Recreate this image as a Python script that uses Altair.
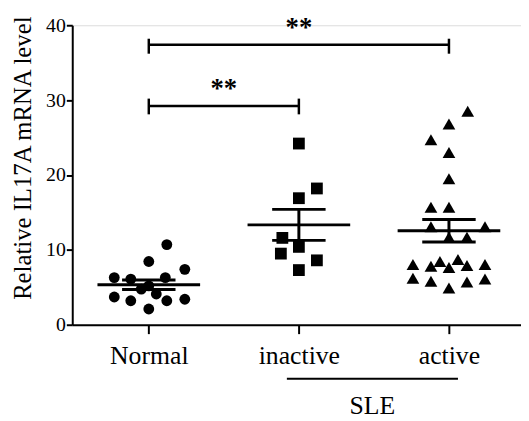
import altair as alt
import pandas as pd

groups = ["Normal", "inactive", "active"]

normal_vals = [10.7, 8.45, 7.4, 6.3, 6.1, 6.3, 4.75, 4.1, 5.2, 3.7, 3.2, 3.2, 3.4, 2.1]
normal_jit = [0.12, 0.0, 0.24, -0.23, -0.12, 0.11, -0.05, 0.05, 0.0, -0.23, -0.12, 0.12, 0.24, 0.0]

inactive_vals = [24.2, 18.2, 16.9, 11.6, 10.4, 9.5, 8.6, 7.3]
inactive_jit = [0.0, 0.12, 0.0, -0.11, 0.0, -0.12, 0.12, 0.0]

active_vals = [28.5, 26.8, 24.7, 23.0, 19.5, 15.7, 15.7, 13.1, 11.7, 11.7, 13.1,
               8.05, 7.8, 8.45, 8.7, 7.65, 7.9, 8.05, 6.2, 5.8, 6.1, 5.7, 4.9]
active_jit = [0.125, 0.0, -0.12, 0.0, 0.0, -0.12, 0.0, -0.12, 0.0, 0.12, 0.24,
              -0.24, -0.12, -0.06, 0.06, 0.0, 0.12, 0.24, -0.24, -0.12, 0.24, 0.12, 0.0]

bracket_from = [1, 1]
bracket_to = [3, 2]
bracket_y = [37.4, 29.2]
bracket_lo = [36.2, 28.1]
bracket_hi = [38.2, 30.2]
star_text = ["**", "**"]

rows = []
for g, vals, jits in [("Normal", normal_vals, normal_jit),
                      ("inactive", inactive_vals, inactive_jit),
                      ("active", active_vals, active_jit)]:
    for v, j in zip(vals, jits):
        rows.append({"group": g, "idx": groups.index(g) + 1, "value": v, "jitter": j})
df = pd.DataFrame(rows)

br = pd.DataFrame({"x1": bracket_from, "x2": bracket_to, "y": bracket_y,
                   "ylo": bracket_lo, "yhi": bracket_hi, "txt": star_text})
br["xm"] = (br["x1"] + br["x2"]) / 2
br["ys"] = br["y"] + 1.2

sle = pd.DataFrame({"x1": [1.92], "x2": [3.06], "y": [-7.2], "xm": [2.49], "yt": [-11.9], "txt": ["SLE"]})

FONT = "Liberation Serif"
xscale = alt.Scale(domain=[0.49, 3.48], nice=False, zero=False)
yscale = alt.Scale(domain=[0, 40], nice=False)

xaxis = alt.Axis(values=[1, 2, 3], title=None,
                 labelExpr="['', 'Normal', 'inactive', 'active'][datum.value]",
                 labelFont=FONT, labelFontSize=26, labelColor="black",
                 tickSize=9, tickWidth=2, tickColor="black",
                 domainWidth=2, domainColor="black", labelPadding=9, grid=False)
yaxis = alt.Axis(values=[0, 10, 20, 30, 40], title="Relative IL17A mRNA level",
                 titleFont=FONT, titleFontSize=25, titleFontWeight="normal", titleColor="black",
                 titleX=-42, titleY=134, titleAngle=270, titleAlign="center", titleBaseline="alphabetic",
                 labelFont=FONT, labelFontSize=20, labelColor="black",
                 tickSize=6, tickWidth=2, tickColor="black",
                 domainWidth=2, domainColor="black", labelPadding=1, grid=False)


def X(field):
    return alt.X(field, scale=xscale, axis=xaxis)


def Y(field):
    return alt.Y(field, scale=yscale, axis=yaxis)


points = alt.Chart(df).transform_calculate(
    xpos="datum.idx + datum.jitter"
).mark_point(filled=True, opacity=1, color="black", strokeWidth=0).encode(
    x=X("xpos:Q"),
    y=Y("value:Q"),
    shape=alt.Shape("group:N", scale=alt.Scale(domain=groups, range=["circle", "square", "triangle-up"]), legend=None),
    size=alt.Size("group:N", scale=alt.Scale(domain=groups, range=[120, 165, 180]), legend=None),
)

stats = alt.Chart(df).transform_aggregate(
    m="mean(value)", se="stderr(value)", groupby=["idx"]
).transform_calculate(
    lo="datum.m - datum.se", hi="datum.m + datum.se",
    ml="datum.idx - 0.342", mr="datum.idx + 0.342",
    cl="datum.idx - 0.178", cr="datum.idx + 0.178",
)
rule_kw = dict(color="black", strokeWidth=3)
mean_rule = stats.mark_rule(**rule_kw).encode(x=X("ml:Q"), x2="mr:Q", y=Y("m:Q"))
cap_hi = stats.mark_rule(**rule_kw).encode(x=X("cl:Q"), x2="cr:Q", y=Y("hi:Q"))
cap_lo = stats.mark_rule(**rule_kw).encode(x=X("cl:Q"), x2="cr:Q", y=Y("lo:Q"))
vert = stats.mark_rule(**rule_kw).encode(x=X("idx:Q"), y=Y("lo:Q"), y2="hi:Q")

bk = dict(color="black", strokeWidth=2.5)
b_h = alt.Chart(br).mark_rule(**bk).encode(x=X("x1:Q"), x2="x2:Q", y=Y("y:Q"))
b_l = alt.Chart(br).mark_rule(**bk).encode(x=X("x1:Q"), y=Y("ylo:Q"), y2="yhi:Q")
b_r = alt.Chart(br).mark_rule(**bk).encode(x=X("x2:Q"), y=Y("ylo:Q"), y2="yhi:Q")
stars = alt.Chart(br).mark_text(font=FONT, fontSize=27, fontWeight="bold", color="black",
                                baseline="alphabetic", align="center").encode(
    x=X("xm:Q"), y=Y("ys:Q"), text="txt:N")

sle_line = alt.Chart(sle).mark_rule(color="black", strokeWidth=2).encode(
    x=X("x1:Q"), x2="x2:Q", y=Y("y:Q"))
sle_text = alt.Chart(sle).mark_text(font=FONT, fontSize=26, color="black", baseline="alphabetic", align="center").encode(
    x=X("xm:Q"), y=Y("yt:Q"), text="txt:N")

chart = alt.layer(
    points, mean_rule, cap_hi, cap_lo, vert, b_h, b_l, b_r, stars, sle_line, sle_text
).properties(
    width=454, height=303,
    autosize=alt.AutoSizeParams(type="none"),
    padding={"left": 65, "top": 15, "right": 0, "bottom": 100},
).configure_view(strokeWidth=0, stroke="transparent").configure(background="white")

chart.save("out.html", embed_options={"renderer": "svg", "actions": False})
